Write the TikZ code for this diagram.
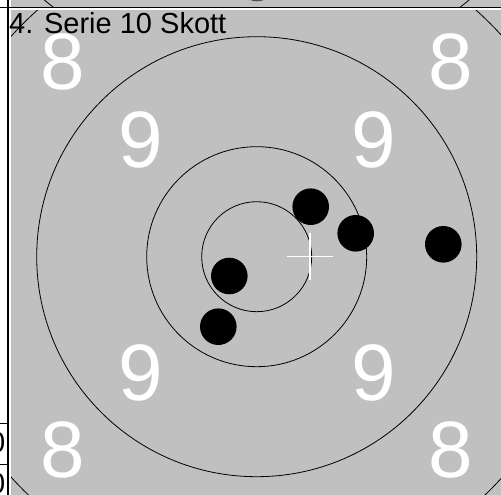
\documentclass[tikz,border=0pt]{standalone}
\usepackage{fontspec}
\setmainfont{Liberation Sans}
\usetikzlibrary{positioning}
\definecolor{targetbg}{HTML}{C0C0C0}

\begin{document}
\begin{tikzpicture}[x=1pt, y=-1pt,
      ring/.style={draw=black, line width=0.8pt},
      score/.style={text=white, font=\fontsize{80}{80}\selectfont, inner sep=0pt},
      shot/.style={circle, fill=black, minimum size=36.6pt, inner sep=0pt},
      cell/.style={font=\fontsize{29}{29}\selectfont, inner sep=0pt, anchor=base east}]
    \useasboundingbox (0,0) rectangle (501,495);
    \fill[white] (0,0) rectangle (501,495);
    % panel of the series above, only its lower edge shows
    \begin{scope}
      \clip (11,0) rectangle (501,7);
      \fill[targetbg] (11,0) rectangle (501,7);
      \draw[ring] (256.7,-252.6) circle[radius=330pt];
      \fill[black!70] (257,-17) circle[radius=18.3pt];
    \end{scope}
    % current panel
    \coordinate (centre) at (256.7,256.7);
    \begin{scope}
      \clip (11,10) rectangle (501,495);
      \fill[targetbg] (11,10) rectangle (501,495);
      \draw[ring] (centre) circle[radius=330pt];
      \draw[ring] (centre) circle[radius=220pt];
      \draw[ring] (centre) circle[radius=110pt];
      \draw[ring] (centre) circle[radius=55pt];
    \end{scope}
    \draw[black, line width=1.3pt] (8,0) -- (8,495);
    \draw[black, line width=1.5pt] (0,7.3) -- (501,7.3);
    \draw[white, line width=1pt] (9.5,9.3) -- (501,9.3);
    % score numbers
    \node[score] (e1) at (62.5,62) {8};
    \node[score] (e2) at (451,62) {8};
    \node[score] (e3) at (62.5,450) {8};
    \node[score] (e4) at (451,450) {8};
    \node[score] (n1) at (140.5,140) {9};
    \node[score] (n2) at (373.5,140) {9};
    \node[score] (n3) at (140.5,372.5) {9};
    \node[score] (n4) at (373.5,372.5) {9};
    \node[anchor=base west, inner sep=0pt, font=\fontsize{29}{29}\selectfont] (title) at (9,33.5) {4. Serie 10 Skott};
    % hits
    \node[shot] (s1) at (310.7,206.7) {};
    \node[shot] (s2) at (355.7,233.3) {};
    \node[shot] (s3) at (443.3,244.3) {};
    \node[shot] (s4) at (229.3,276) {};
    \node[shot] (s5) at (218.3,326.7) {};
    % mean point of impact
    \coordinate (aim) at (310,256.7);
    \draw[white, line width=1.5pt] (aim) +(-23.3,0) -- +(23.3,0);
    \draw[white, line width=1.5pt] (aim) +(0,-23.4) -- +(0,23.3);
    % table cells left of the panel
    \begin{scope}
      \clip (0,0) rectangle (8,495);
      \draw[black, line width=1pt] (0,423) -- (8,423);
      \draw[black, line width=1pt] (0,464) -- (8,464);
      \node[cell] (c1) at (5.5,452) {0};
      \node[cell] (c2) at (5.5,493) {0};
    \end{scope}
\end{tikzpicture}
\end{document}
